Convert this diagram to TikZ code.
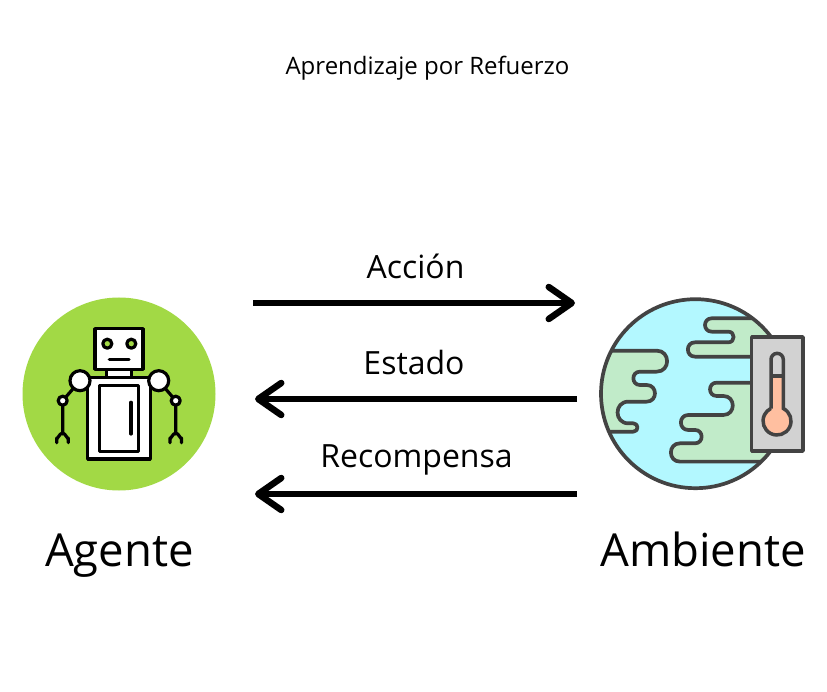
\documentclass[tikz,border=0pt]{standalone}
\usepackage{fontspec}
\setmainfont{Open Sans}
\usetikzlibrary{arrows.meta}
\definecolor{agentgreen}{HTML}{A2D945}
\definecolor{seablue}{HTML}{B3F8FF}
\definecolor{landgreen}{HTML}{C1EBC9}
\definecolor{earthline}{HTML}{434343}
\definecolor{thermogray}{HTML}{D2D2D2}
\definecolor{thermopeach}{HTML}{FFBFA0}
\tikzset{
  flow/.style={line width=6.5pt,-{Straight Barb[length=23pt,width=32pt,line width=6.5pt,round]}},
  flowlabel/.style={anchor=base,font=\fontsize{32}{36}\selectfont},
  biglabel/.style={anchor=base,font=\fontsize{45.5}{50}\selectfont},
  bulge/.style={out=0,in=0,looseness=1.7},
  dent/.style={out=180,in=180,looseness=1.7},
  robot/.style={line width=3.2pt,line join=round,line cap=round,black},
  land/.style={fill=landgreen,draw=earthline,line width=3.7pt,line join=round}
}
\begin{document}
\begin{tikzpicture}[x=1pt,y=-1pt]
  \useasboundingbox (0,0) rectangle (827,692);
  \fill[white] (0,0) rectangle (827,692);

  %% Title
  \node[anchor=base,font=\fontsize{24}{28}\selectfont] (title) at (427.5,75) {Aprendizaje por Refuerzo};

  %% Agent disc
  \node[circle,fill=agentgreen,minimum size=193pt,inner sep=0pt] (agentdisc) at (119,394) {};
  %% Robot
  \draw[robot,fill=white] (106.7,369.3) rectangle (131.7,377.3);
  \draw[robot,fill=white] (87.7,377.3) rectangle (150.3,459);
  \draw[robot,fill=white] (99.3,385.3) rectangle (138.3,451.7);
  \draw[robot] (131,402.3) -- (131,434);
  \draw[robot,fill=white] (95,328.7) rectangle (143,369.3);
  \draw[robot,fill=agentgreen] (107.3,343.7) circle[radius=4.5];
  \draw[robot,fill=agentgreen] (131.3,343.7) circle[radius=4.5];
  \draw[robot] (109.3,359.3) -- (129,359.3);
  %% Arms
  \draw[robot] (80,380.7) -- (62.7,400.7) -- (62.7,434);
  \draw[robot] (158.7,380.7) -- (175.7,400.7) -- (175.7,434);
  \draw[robot] (56.7,442.7) -- (56.7,438) to[out=-90,in=180] (62.5,433) to[out=0,in=-90] (68.3,438) -- (68.3,442.7);
  \draw[robot] (170,442.7) -- (170,438) to[out=-90,in=180] (175.7,433) to[out=0,in=-90] (181.5,438) -- (181.5,442.7);
  \foreach \x in {80,158.7}{
    \draw[robot,fill=white] (\x,380.7) circle[radius=10];
  }
  \foreach \x in {62.7,175.7}{
    \draw[robot,fill=white] (\x,400.7) circle[radius=4.5];
  }
  \node[biglabel] (agentlabel) at (119.5,566) {Agente};

  %% Earth
  \node[circle,fill=seablue,minimum size=189pt,inner sep=0pt] (envdisc) at (695.5,393.7) {};
  \begin{scope}
    \clip (695.5,393.7) circle[radius=94.5];
    \begin{scope}[shift={(595,290)},x=0.3333pt,y=-0.3333pt]
      %% Left land
      \draw[land] (-60,182) -- (185,182) to[bulge] (185,245) -- (135,245)
        to[dent] (135,285) -- (155,285) to[bulge] (155,335) -- (100,335)
        to[dent] (100,400) -- (115,400) to[bulge] (115,425) -- (-60,425);
      %% Upper right land
      \draw[land] (700,85) -- (350,85) to[dent] (350,125) -- (400,125)
        to[bulge] (400,157) -- (300,157) to[dent] (300,200) -- (700,200);
      %% Lower right land
      \draw[land] (700,278) -- (365,278) to[dent] (365,318) -- (385,318)
        to[bulge] (385,375) -- (280,375) to[dent] (280,420) -- (300,420)
        to[bulge] (300,460) -- (255,460) to[dent] (255,515) -- (700,515);
    \end{scope}
  \end{scope}
  \draw[earthline,line width=3.7pt] (695.5,393.7) circle[radius=94.5];
  %% Thermometer
  \draw[fill=thermogray,draw=earthline,line width=3.5pt,line join=round] (751.7,337) rectangle (803,451);
  \fill[thermopeach] (771,376) rectangle (783.3,412);
  \fill[thermopeach] (777.2,420.7) circle[radius=14];
  \draw[earthline,line width=3.5pt]
    (771,408.5) -- (771,359.5) arc[start angle=180,end angle=360,radius=6.15]
    -- (783.3,408.5) arc[start angle=-63.4,end angle=243.4,radius=14];
  \draw[earthline,line width=3pt] (771,376) -- (783.3,376);
  \node[biglabel] (envlabel) at (703,566) {Ambiente};

  %% Flows
  \coordinate (actionstart) at (253,303);
  \coordinate (actionend) at (575,303);
  \coordinate (statestart) at (577,399);
  \coordinate (stateend) at (255,399);
  \coordinate (rewardstart) at (577,494);
  \coordinate (rewardend) at (255,494);
  \draw[flow] (actionstart) -- (actionend);
  \draw[flow] (statestart) -- (stateend);
  \draw[flow] (rewardstart) -- (rewardend);
  \node[flowlabel] (actionlabel) at (415.5,279) {Acción};
  \node[flowlabel] (statelabel) at (414,374) {Estado};
  \node[flowlabel] (rewardlabel) at (416.5,467) {Recompensa};
\end{tikzpicture}
\end{document}
